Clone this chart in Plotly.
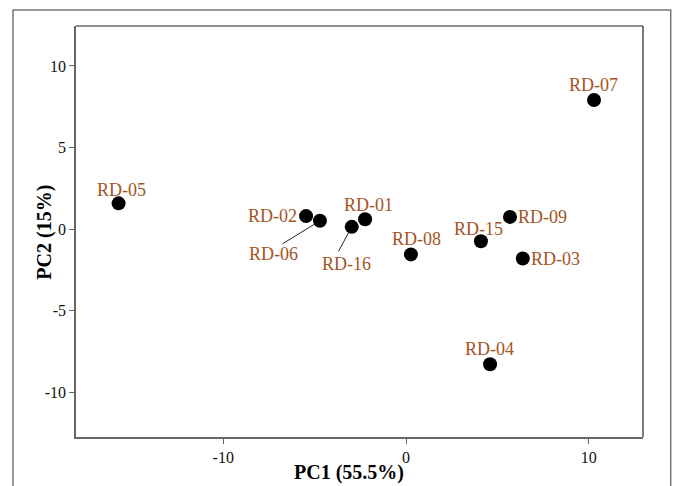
import plotly.graph_objects as go

# ---- data ----
samples = ["RD-05", "RD-02", "RD-06", "RD-16", "RD-01", "RD-08",
           "RD-15", "RD-09", "RD-03", "RD-04", "RD-07"]
pc1 = [-15.73, -5.47, -4.71, -2.97, -2.24, 0.27, 4.10, 5.69, 6.39, 4.60, 10.29]
pc2 = [1.58, 0.80, 0.51, 0.14, 0.61, -1.55, -0.74, 0.75, -1.80, -8.28, 7.91]
x_ticks = [-10, 0, 10]
x_tick_labels = ["-10", "0", "10"]
y_ticks = [-10, -5, 0, 5, 10]
y_tick_labels = ["-10", "-5", "0", "5", "10"]
x_title = "PC1 (55.5%)"
y_title = "PC2 (15%)"

# ---- label placement (pixel offsets from point centre; style only) ----
label_offsets = {
    "RD-05": (3, 13), "RD-02": (-34, 0), "RD-06": (-46, -33), "RD-16": (-5, -37),
    "RD-01": (3, 14), "RD-08": (6, 15), "RD-15": (-2, 12), "RD-09": (33, 0),
    "RD-03": (33, 0), "RD-04": (-1, 15), "RD-07": (-1, 15),
}
leaders = {"RD-06": (-39, 24), "RD-16": (-14, 26)}

LABEL_COLOR = "#A3541F"
FONT = "Liberation Serif, Times New Roman, serif"

fig = go.Figure()
fig.add_trace(go.Scatter(
    x=pc1, y=pc2, mode="markers",
    marker=dict(size=14, color="black"),
    hoverinfo="text", text=samples, showlegend=False,
))

annotations = []
for name, xv, yv in zip(samples, pc1, pc2):
    dx, dy = label_offsets[name]
    annotations.append(dict(
        x=xv, y=yv, xref="x", yref="y", text=name, showarrow=False,
        xshift=dx, yshift=dy, xanchor="center", yanchor="middle",
        font=dict(family=FONT, size=18, color=LABEL_COLOR),
    ))
    if name in leaders:
        ax, ay = leaders[name]
        annotations.append(dict(
            x=xv, y=yv, xref="x", yref="y", text="", showarrow=True,
            ax=ax, ay=ay, arrowhead=0, arrowwidth=1, arrowcolor="#222",
            standoff=6,
        ))

annotations.append(dict(
    x=0.4815, y=-0.087, xref="paper", yref="paper", text="<b>%s</b>" % x_title,
    showarrow=False, xanchor="center", yanchor="middle",
    font=dict(family=FONT, size=20, color="black"),
))
annotations.append(dict(
    x=-0.0547, y=0.4996, xref="paper", yref="paper", text="<b>%s</b>" % y_title,
    showarrow=False, xanchor="center", yanchor="middle", textangle=-90,
    font=dict(family=FONT, size=20, color="black"),
))

shapes = [
    # outer frame
    dict(type="rect", xref="paper", yref="paper", x0=-0.1111, x1=1.0489,
         y0=-0.3, y1=1.039, line=dict(color="#777", width=1.5)),
    # top and right edges of plot box
    dict(type="line", xref="paper", yref="paper", x0=0, x1=1, y0=1, y1=1,
         line=dict(color="#222", width=1.2)),
    dict(type="line", xref="paper", yref="paper", x0=1, x1=1, y0=0, y1=1,
         line=dict(color="#222", width=1.2)),
]

axis_common = dict(
    showgrid=False, zeroline=False, showline=True, linecolor="#666", linewidth=1.5,
    ticks="outside", ticklen=5, tickcolor="#666", tickwidth=1,
    tickfont=dict(family=FONT, size=16, color="#111"),
)

fig.update_layout(
    width=675, height=486,
    margin=dict(l=76, r=32, t=26, b=49),
    paper_bgcolor="white", plot_bgcolor="white",
    xaxis=dict(range=[-18.06, 12.97], tickvals=x_ticks, ticktext=x_tick_labels, **axis_common),
    yaxis=dict(range=[-12.74, 12.45], tickvals=y_ticks, ticktext=y_tick_labels, **axis_common),
    annotations=annotations, shapes=shapes,
    font=dict(family=FONT),
)

fig.write_html(
    "out.html",
    config={"displayModeBar": False},
    post_script="document.body.style.margin='0';document.body.style.overflow='hidden';",
)
